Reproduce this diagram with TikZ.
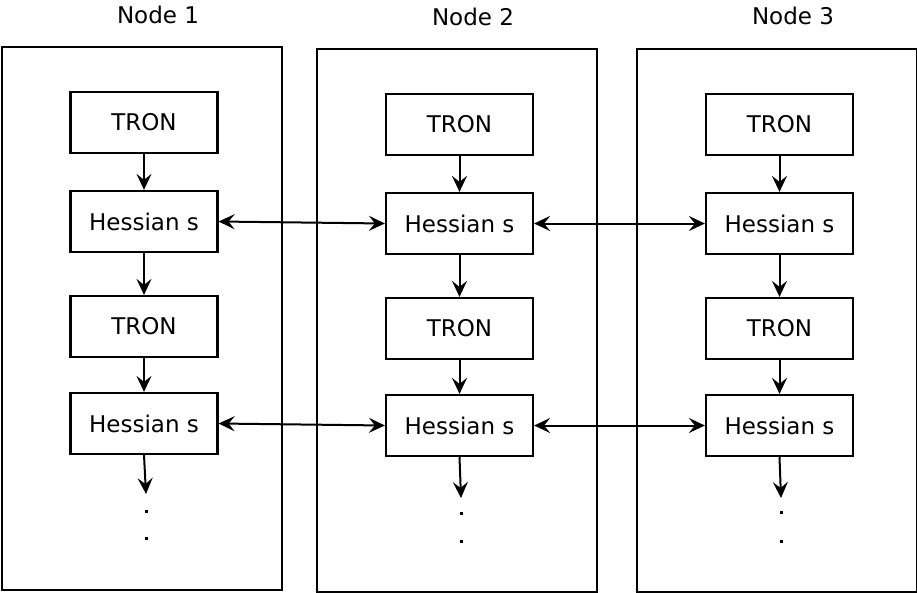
\documentclass[tikz,border=0pt]{standalone}
\usepackage{fontspec}
\setmainfont{DejaVu Sans}
\usetikzlibrary{arrows.meta}
\begin{document}
\begin{tikzpicture}[x=1pt,y=-1pt,
  every node/.style={font=\fontsize{23}{27}\selectfont},
  outerbox/.style={draw,line width=2.2pt,minimum width=280pt,minimum height=543pt,inner sep=0pt,anchor=north west},
  innerbox/.style={draw,line width=2.2pt,minimum width=147pt,minimum height=61pt,inner sep=0pt},
  conn/.style={line width=2pt,-{Stealth[length=16pt,width=15pt,inset=6pt]}},
  biconn/.style={line width=2pt,{Stealth[length=16pt,width=15pt,inset=6pt]}-{Stealth[length=16pt,width=15pt,inset=6pt]}},
  dotmark/.style={rectangle,fill,inner sep=0pt,minimum size=3pt}]
\useasboundingbox (0,0) rectangle (917,592);
% outer boxes
\node[outerbox] (n1) at (1,46) {};
\node[outerbox] (n2) at (316,48) {};
\node[outerbox] (n3) at (636,48) {};
\node (l1) at (158,15) {Node 1};
\node (l2) at (473,17) {Node 2};
\node (l3) at (793,16) {Node 3};
% column 1
\node[innerbox] (t11) at (144,122.5) {TRON};
\node[innerbox] (h11) at (144,221.5) {Hessian s};
\node[innerbox] (t12) at (144,326.5) {TRON};
\node[innerbox] (h12) at (144,423.5) {Hessian s};
% column 2
\node[innerbox] (t21) at (459.5,124.5) {TRON};
\node[innerbox] (h21) at (459.5,223.5) {Hessian s};
\node[innerbox] (t22) at (459.5,328.5) {TRON};
\node[innerbox] (h22) at (459.5,425.5) {Hessian s};
% column 3
\node[innerbox] (t31) at (779.5,124.5) {TRON};
\node[innerbox] (h31) at (779.5,223.5) {Hessian s};
\node[innerbox] (t32) at (779.5,328.5) {TRON};
\node[innerbox] (h32) at (779.5,425.5) {Hessian s};
% loose ends and dots
\coordinate (e1) at (146,494);
\coordinate (e2) at (461,498);
\coordinate (e3) at (781,498);
\node[dotmark] (d11) at (146,511) {};
\node[dotmark] (d12) at (146,538) {};
\node[dotmark] (d21) at (461,513) {};
\node[dotmark] (d22) at (461,541) {};
\node[dotmark] (d31) at (781,512) {};
\node[dotmark] (d32) at (781,541) {};
% vertical arrows
\foreach \c in {1,2,3}{
  \draw[conn] (t\c1) -- (h\c1);
  \draw[conn] (h\c1) -- (t\c2);
  \draw[conn] (t\c2) -- (h\c2);
  \draw[conn] (h\c2.south) -- (e\c);
}
% horizontal arrows
\draw[biconn] (h11.east) -- (h21.west);
\draw[biconn] (h21.east) -- (h31.west);
\draw[biconn] (h12.east) -- (h22.west);
\draw[biconn] (h22.east) -- (h32.west);
\end{tikzpicture}
\end{document}
